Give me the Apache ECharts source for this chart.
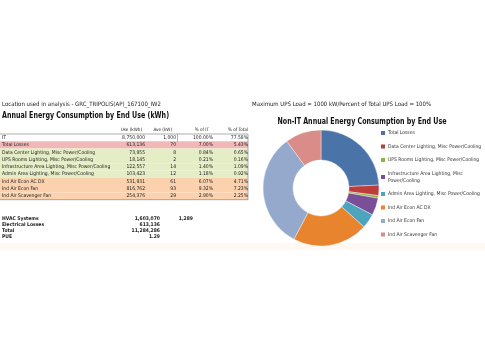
<!DOCTYPE html>
<html>
<head>
<meta charset="utf-8">
<script src="https://cdn.jsdelivr.net/npm/echarts@6/dist/echarts.min.js"></script>
<style>
  html, body { margin: 0; padding: 0; background: #fff; }
  #chart { width: 485px; height: 350px; }
</style>
</head>
<body>
<div id="chart"></div>
<script>
const rowNames = ['IT', 'Total Losses', 'Data Center Lighting, Misc Power/Cooling', 'UPS Rooms Lighting, Misc Power/Cooling',
  'Infrastructure Area Lighting, Misc Power/Cooling', 'Admin Area Lighting, Misc Power/Cooling',
  'Ind Air Econ AC DX', 'Ind Air Econ Fan', 'Ind Air Scavenger Fan'];
const useKwh = [8750000, 613136, 73955, 18145, 122557, 103423, 531931, 816762, 254376];
const aveKw = [1000, 70, 8, 2, 14, 12, 61, 93, 29];
const pctIT = ['100.00%', '7.00%', '0.84%', '0.21%', '1.40%', '1.18%', '6.07%', '9.32%', '2.90%'];
const pctTotal = ['77.58%', '5.43%', '0.65%', '0.16%', '1.09%', '0.92%', '4.71%', '7.23%', '2.25%'];
const headers = ['Use (kWh)', 'Ave (kW)', '% of IT', '% of Total'];
const summaryLabels = ['HVAC Systems', 'Electrical Losses', 'Total', 'PUE'];
const summaryValues = ['1,603,070', '613,136', '11,284,286', '1.29'];
const hvacKw = '1,289';

const FONT = '"Liberation Sans Narrow", "DejaVu Sans Condensed", sans-serif';
const rowFill = ['#ffffff', '#f2b8b7', '#e5edc6', '#e5edc6', '#e5edc6', '#e5edc6', '#fbd2ad', '#fbd2ad', '#fbd2ad'];
const colRight = [145, 176, 213, 248];
const headRight = [142, 172, 209, 248];

const chart = echarts.init(document.getElementById('chart'));

const fmt = v => v.toLocaleString('en-US');
const txt = (x, y, s, opts, extra) => Object.assign({
  type: 'text', x: x, y: y, z: 10,
  style: Object.assign({ text: s, font: '5px ' + FONT, fill: '#222', align: 'left', verticalAlign: 'middle' }, opts || {})
}, extra || {});

const graphic = [];
// faint band at the bottom of the sheet
graphic.push({ type: 'rect', z: 0, shape: { x: 0, y: 243, width: 485, height: 7 }, style: { fill: '#fff8f3' } });

graphic.push(txt(2, 104, 'Location used in analysis - GRC_TRIPOLIS(AP)_167100_IW2', { font: '6px ' + FONT }));
graphic.push(txt(252, 104, 'Maximum UPS Load = 1000 kW/Percent of Total UPS Load = 100%', { font: '6px ' + FONT }));
graphic.push(txt(2, 116, 'Annual Energy Consumption by End Use (kWh)', { font: 'bold 8.3px ' + FONT, fill: '#111' }, { scaleX: 0.85 }));
graphic.push(txt(362, 122, 'Non-IT Annual Energy Consumption by End Use', { font: 'bold 8.3px ' + FONT, fill: '#111', align: 'center' }, { scaleX: 0.85 }));

headers.forEach((h, i) => graphic.push(txt(headRight[i], 129.5, h, { align: 'right', font: '4.6px ' + FONT })));

const rowTop = 134, rowH = 7.3;
rowNames.forEach((name, i) => {
  const top = rowTop + i * rowH;
  const cy = top + rowH / 2;
  graphic.push({ type: 'rect', z: 1, shape: { x: 0, y: top, width: 248, height: rowH }, style: { fill: rowFill[i] } });
  graphic.push(txt(2, cy, name));
  graphic.push(txt(colRight[0], cy, fmt(useKwh[i]), { align: 'right' }));
  graphic.push(txt(colRight[1], cy, fmt(aveKw[i]), { align: 'right' }));
  graphic.push(txt(colRight[2], cy, pctIT[i], { align: 'right' }));
  graphic.push(txt(colRight[3], cy, pctTotal[i], { align: 'right' }));
});
const tableBottom = rowTop + rowNames.length * rowH;
graphic.push({ type: 'line', z: 5, shape: { x1: 0, y1: rowTop, x2: 248, y2: rowTop }, style: { stroke: '#777', lineWidth: 0.6 } });
graphic.push({ type: 'line', z: 5, shape: { x1: 0, y1: tableBottom, x2: 248, y2: tableBottom }, style: { stroke: '#777', lineWidth: 0.6 } });
graphic.push({ type: 'line', z: 5, shape: { x1: 248, y1: rowTop, x2: 248, y2: tableBottom }, style: { stroke: '#777', lineWidth: 0.6 } });
graphic.push({ type: 'line', z: 5, shape: { x1: 177.5, y1: rowTop, x2: 177.5, y2: rowTop + rowH }, style: { stroke: '#777', lineWidth: 0.6 } });

summaryLabels.forEach((lab, i) => {
  const cy = 219 + i * 6;
  graphic.push(txt(2, cy, lab, { font: 'bold 5px ' + FONT }));
  graphic.push(txt(160, cy, summaryValues[i], { font: 'bold 5px ' + FONT, align: 'right' }));
});
graphic.push(txt(193, 219, hvacKw, { font: 'bold 5px ' + FONT, align: 'right' }));

const pieNames = rowNames.slice(1);
const pieValues = useKwh.slice(1);

const option = {
  animation: false,
  backgroundColor: '#fff',
  color: ['#4a74a8', '#bf3c3c', '#8db43e', '#7b4f97', '#4ca4bf', '#e8832e', '#94a9cc', '#d98c88'],
  legend: {
    orient: 'vertical',
    left: 381, top: 129.5,
    icon: 'rect',
    itemWidth: 4, itemHeight: 4,
    itemGap: 6.5,
    padding: 0,
    itemStyle: { borderWidth: 0 },
    data: pieNames,
    formatter: name => name === 'Infrastructure Area Lighting, Misc Power/Cooling'
      ? 'Infrastructure Area Lighting, Misc\nPower/Cooling' : name,
    textStyle: { fontFamily: FONT, fontSize: 5, color: '#333', lineHeight: 7, padding: [0, 0, 0, -2] }
  },
  graphic: graphic,
  series: [{
    type: 'pie',
    center: [321, 188],
    radius: [28, 58],
    startAngle: 90,
    label: { show: false },
    labelLine: { show: false },
    itemStyle: { borderColor: '#fff', borderWidth: 0.4 },
    data: pieNames.map((n, i) => ({ name: n, value: pieValues[i] }))
  }]
};
chart.setOption(option);
</script>
</body>
</html>
